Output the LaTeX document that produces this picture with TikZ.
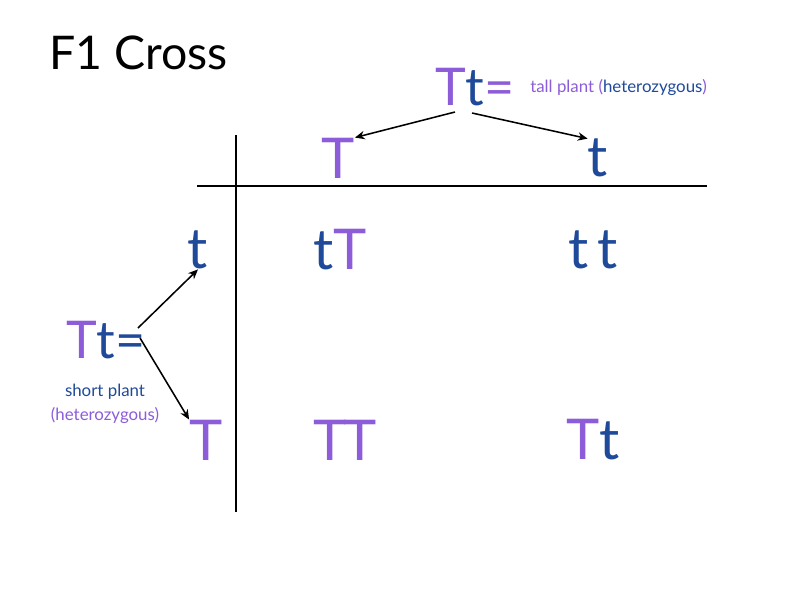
\documentclass[tikz,border=0pt]{standalone}
\usepackage{fontspec}
\setmainfont{Lato}
\definecolor{pur}{HTML}{8C5CD9}
\definecolor{blu}{HTML}{1F4A99}
\tikzset{
  allele/.style={inner sep=0pt,font=\fontsize{40}{44}\selectfont},
  cross/.style={inner sep=0pt,font=\fontsize{37}{42}\selectfont},
  note/.style={inner sep=0pt,font=\fontsize{12}{14}\selectfont},
  arr/.style={-{Stealth[length=7pt,width=6pt]},line width=1.1pt},
  grid/.style={line width=1.2pt}
}
\usetikzlibrary{arrows.meta}
\newcommand{\Pu}[1]{\textcolor{pur}{#1}}
\newcommand{\Bl}[1]{\textcolor{blu}{#1}}
\begin{document}
\begin{tikzpicture}[x=0.025cm,y=-0.025cm]
\useasboundingbox (0,0) rectangle (800,600);
% title
\node[inner sep=0pt,font=\fontsize{33}{38}\selectfont,anchor=west] (title) at (49,53) {F1 Cross};
% parents
\node[cross] (ptop) at (475,87) {\Pu{T}\Bl{t}\Pu{=}};
\node[note,anchor=west] (ntop) at (530,87) {\Pu{tall plant (}\Bl{heterozygous}\Pu{)}};
\node[cross] (pleft) at (106,340) {\Pu{T}\Bl{t=}};
\node[note,align=center] (nleft) at (105,404) {\Bl{short plant}\\[3pt]\Pu{(heterozygous)}};
% gametes
\node[allele] (gT) at (338,158) {\Pu{T}};
\node[allele] (gt) at (598,158) {\Bl{t}};
\node[allele] (lt) at (198,250) {\Bl{t}};
\node[allele] (lT) at (206,440) {\Pu{T}};
% offspring
\node[allele] (c1) at (340,250) {\Bl{t}\Pu{T}};
\node[allele] (c2) at (593,250) {\Bl{t\,t}};
\node[allele] (c3) at (345,440) {\Pu{T\kern-2ptT}};
\node[allele] (c4) at (593,440) {\Pu{T}\Bl{t}};
% grid
\coordinate (vt) at (236,135); \coordinate (vb) at (236,512);
\coordinate (hl) at (197,186); \coordinate (hr) at (707,186);
\draw[grid] (vt) -- (vb);
\draw[grid] (hl) -- (hr);
% arrows
\coordinate (tl) at (455,112); \coordinate (tr) at (472,113);
\coordinate (lu) at (138,328); \coordinate (ld) at (140,338);
\draw[arr] (tl) -- (gT.north east);
\draw[arr] (tr) -- (gt.north west);
\draw[arr] (lu) -- (lt.south);
\draw[arr] (ld) -- (lT.north west);
\end{tikzpicture}
\end{document}
